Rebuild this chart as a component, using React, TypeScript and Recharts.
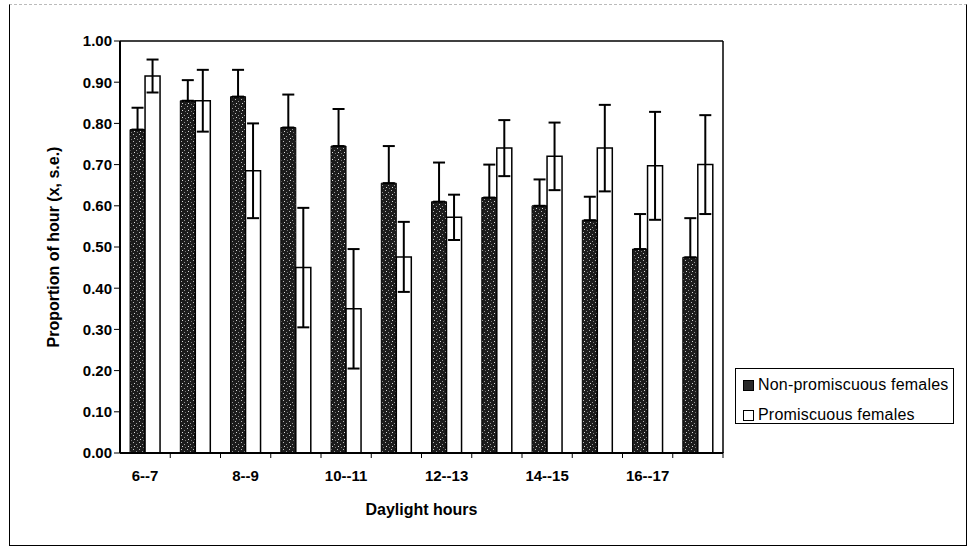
import { Bar, BarChart, ErrorBar, Label, Legend, XAxis, YAxis } from "recharts";

const hours = ["6--7", "7--8", "8--9", "9--10", "10--11", "11--12", "12--13", "13--14", "14--15", "15--16", "16--17", "17--18"];
const nonPromiscuous = [0.785, 0.855, 0.865, 0.79, 0.745, 0.655, 0.61, 0.62, 0.6, 0.565, 0.495, 0.475];
const nonPromiscuousSe = [0.053, 0.05, 0.065, 0.08, 0.09, 0.09, 0.095, 0.08, 0.064, 0.057, 0.085, 0.095];
const promiscuous = [0.915, 0.855, 0.685, 0.45, 0.35, 0.476, 0.572, 0.74, 0.72, 0.74, 0.697, 0.7];
const promiscuousSe = [0.04, 0.075, 0.115, 0.145, 0.145, 0.085, 0.055, 0.068, 0.082, 0.105, 0.131, 0.12];
const yTicks = [0, 0.1, 0.2, 0.3, 0.4, 0.5, 0.6, 0.7, 0.8, 0.9, 1.0];

const data = hours.map((hour, i) => ({
  hour,
  nonPromiscuous: nonPromiscuous[i],
  nonErr: [0, nonPromiscuousSe[i]],
  promiscuous: promiscuous[i],
  promErr: promiscuousSe[i]
}));

const font = "'Liberation Sans', Arial, sans-serif";

function HourTick(props: any) {
  const { x, y, payload, index } = props;
  const edge = x + (payload.offset || 0);
  return (
    <g>
      <line x1={edge} x2={edge} y1={y - 9} y2={y - 3} stroke="#000" strokeWidth={1} />
      {index % 2 === 0 && (
        <text x={x} y={y + 20} textAnchor="middle" fontFamily={font} fontSize={15} fontWeight="bold" fill="#000">
          {payload.value}
        </text>
      )}
    </g>
  );
}

function LegendBox() {
  const row = { display: "flex", alignItems: "center", height: 20 } as const;
  const box = { width: 9, height: 9, border: "1px solid #000", marginRight: 4, flex: "none" } as const;
  return (
    <div
      style={{
        boxSizing: "border-box",
        height: 56,
        border: "1px solid #000",
        background: "#fff",
        padding: "6px 0 0 7px",
        fontFamily: font,
        fontSize: 16,
        letterSpacing: 0.2,
        color: "#000"
      }}
    >
      <div style={row}>
        <span style={{ ...box, background: "#2a2a2a" }} />
        Non-promiscuous females
      </div>
      <div style={{ ...row, marginTop: 10 }}>
        <span style={{ ...box, background: "#fff" }} />
        Promiscuous females
      </div>
    </div>
  );
}

export default function App() {
  return (
    <div style={{ position: "absolute", left: 0, top: 0, width: 971, height: 555, background: "#fff" }}>
      <div
        style={{
          position: "absolute",
          left: 9,
          top: 4,
          width: 956,
          height: 540,
          borderLeft: "1px solid #000",
          borderRight: "1px solid #000",
          borderBottom: "1px solid #000",
          borderTop: "1px dashed #bbb"
        }}
      />
      <BarChart
        width={971}
        height={555}
        data={data}
        margin={{ top: 40, right: 247, left: 60, bottom: 72 }}
        barCategoryGap="20%"
        barGap={0}
        style={{ position: "absolute", left: 0, top: 0 }}
      >
        <defs>
          <pattern id="speckle" width="6" height="7" patternUnits="userSpaceOnUse">
            <rect width="6" height="7" fill="#1c1c1c" />
            <rect x="1" y="1" width="1" height="1" fill="#bbb" />
            <rect x="4" y="3" width="1" height="1" fill="#999" />
            <rect x="2" y="5" width="1" height="1" fill="#ddd" />
            <rect x="5" y="6" width="1" height="1" fill="#777" />
          </pattern>
        </defs>
        <XAxis
          dataKey="hour"
          interval={0}
          height={30}
          tickLine={false}
          tick={<HourTick />}
          axisLine={{ stroke: "#000", strokeWidth: 2 }}
        >
          <Label
            value="Daylight hours"
            position="bottom"
            offset={21}
            style={{ fontFamily: font, fontSize: 16, fontWeight: "bold", fill: "#000" }}
          />
        </XAxis>
        <XAxis xAxisId="top" dataKey="hour" orientation="top" height={1} tick={false} tickLine={false} axisLine={{ stroke: "#000", strokeWidth: 1.5 }} />
        <YAxis
          domain={[0, 1]}
          ticks={yTicks}
          width={60}
          interval={0}
          tickFormatter={(v: number) => v.toFixed(2)}
          tick={{ fontFamily: font, fontSize: 15, fontWeight: "bold", fill: "#000" }}
          tickLine={{ stroke: "#000" }}
          tickSize={6}
          axisLine={{ stroke: "#000", strokeWidth: 2 }}
        >
          <Label
            value="Proportion of hour (x, s.e.)"
            angle={-90}
            position="insideLeft"
            offset={-7}
            style={{ textAnchor: "middle", fontFamily: font, fontSize: 16, fontWeight: "bold", fill: "#000" }}
          />
        </YAxis>
        <YAxis yAxisId="right" orientation="right" width={1} domain={[0, 1]} tick={false} tickLine={false} axisLine={{ stroke: "#000", strokeWidth: 1.5 }} />
        <Legend
          layout="horizontal"
          verticalAlign="middle"
          wrapperStyle={{ left: 735, top: 368, width: 219 }}
          content={<LegendBox />}
        />
        <Bar dataKey="nonPromiscuous" name="Non-promiscuous females" fill="url(#speckle)" stroke="#000" strokeWidth={1} isAnimationActive={false}>
          <ErrorBar dataKey="nonErr" width={6} stroke="#000" strokeWidth={2} direction="y" />
        </Bar>
        <Bar dataKey="promiscuous" name="Promiscuous females" fill="#fff" stroke="#000" strokeWidth={1.5} isAnimationActive={false}>
          <ErrorBar dataKey="promErr" width={6} stroke="#000" strokeWidth={2} direction="y" />
        </Bar>
      </BarChart>
    </div>
  );
}
